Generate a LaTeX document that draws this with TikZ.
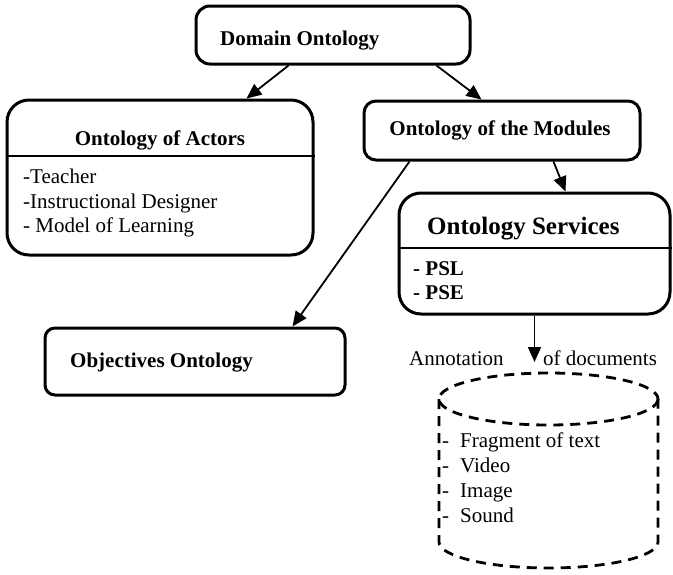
\documentclass[tikz,border=0pt]{standalone}
\usepackage{fontspec}
\setmainfont{Liberation Serif}
\usetikzlibrary{arrows.meta,calc}

\tikzset{
  box/.style={draw, line width=3pt, inner sep=0pt},
  rule/.style={line width=2.4pt},
  link/.style={line width=1.8pt, -{Triangle[length=15pt,width=13pt]}},
  plain/.style={line width=1.6pt},
  label/.style={inner sep=0pt, font=\fontsize{21}{24}\selectfont},
  head/.style={label, font=\fontsize{21}{24}\selectfont\bfseries},
  bighead/.style={label, font=\fontsize{25}{28}\selectfont\bfseries},
  store/.style={line width=2.8pt, dash pattern=on 10pt off 7pt},
}

\begin{document}
\begin{tikzpicture}[x=1pt, y=-1pt]
\useasboundingbox (0,0) rectangle (673,574);

% boxes
\node[box, rounded corners=14pt, minimum width=274pt, minimum height=58pt] (dom) at (333,35) {};
\node[box, rounded corners=22pt, minimum width=306pt, minimum height=155pt] (act) at (160,177.5) {};
\node[box, rounded corners=12pt, minimum width=276pt, minimum height=59pt] (mod) at (502,130.5) {};
\node[box, rounded corners=22pt, minimum width=271pt, minimum height=121pt] (srv) at (534.5,253.5) {};
\node[box, rounded corners=10pt, minimum width=300pt, minimum height=67pt] (obj) at (195,361.5) {};

% header rules
\draw[rule] (act.west |- 0,156) -- (act.east |- 0,156);
\draw[rule] (srv.west |- 0,248) -- (srv.east |- 0,248);

% texts
\node[head, anchor=base west] (domt) at (220,45) {Domain Ontology};
\node[head, anchor=base] (actt) at (160,145) {Ontology of Actors};
\node[label, anchor=base west] (act1) at (23,183) {-Teacher};
\node[label, anchor=base west] (act2) at (23,208) {-Instructional Designer};
\node[label, anchor=base west] (act3) at (23,232) {- Model of Learning};
\node[head, anchor=base] (modt) at (500,135) {Ontology of the Modules};
\node[bighead, anchor=base west] (srvt) at (427,234) {Ontology Services};
\node[head, anchor=base west] (srv1) at (413,275) {- PSL};
\node[head, anchor=base west] (srv2) at (413,299) {- PSE};
\node[head, anchor=base west] (objt) at (70,367) {Objectives Ontology};

% document store
\draw[store] (548.5,399) ellipse [x radius=109.5, y radius=26];
\draw[store] (439,399) -- (439,542) arc [start angle=180, end angle=360, x radius=109.5, y radius=-26] -- (658,399);
\coordinate (db) at (534.5,362);
\node[label, anchor=base west] (ann1) at (409,365) {Annotation};
\node[label, anchor=base west] (ann2) at (543,365) {of documents};
\node[label, anchor=base west] (d1) at (442,447) {\makebox[18pt][l]{-}Fragment of text};
\node[label, anchor=base west] (d2) at (442,472) {\makebox[18pt][l]{-}Video};
\node[label, anchor=base west] (d3) at (442,497) {\makebox[18pt][l]{-}Image};
\node[label, anchor=base west] (d4) at (442,522) {\makebox[18pt][l]{-}Sound};

% connectors
\draw[link] ($(dom.south west)+(94,0)$) -- ($(act.north west)+(241,0)$);
\draw[link] ($(dom.south west)+(242,0)$) -- ($(mod.north west)+(119,0)$);
\draw[link] ($(mod.south west)+(191,0)$) -- ($(srv.north west)+(168,0)$);
\draw[link] ($(mod.south west)+(47,0)$) -- ($(obj.north west)+(249,0)$);
\draw[link] (srv.south) -- (db);
\end{tikzpicture}
\end{document}
